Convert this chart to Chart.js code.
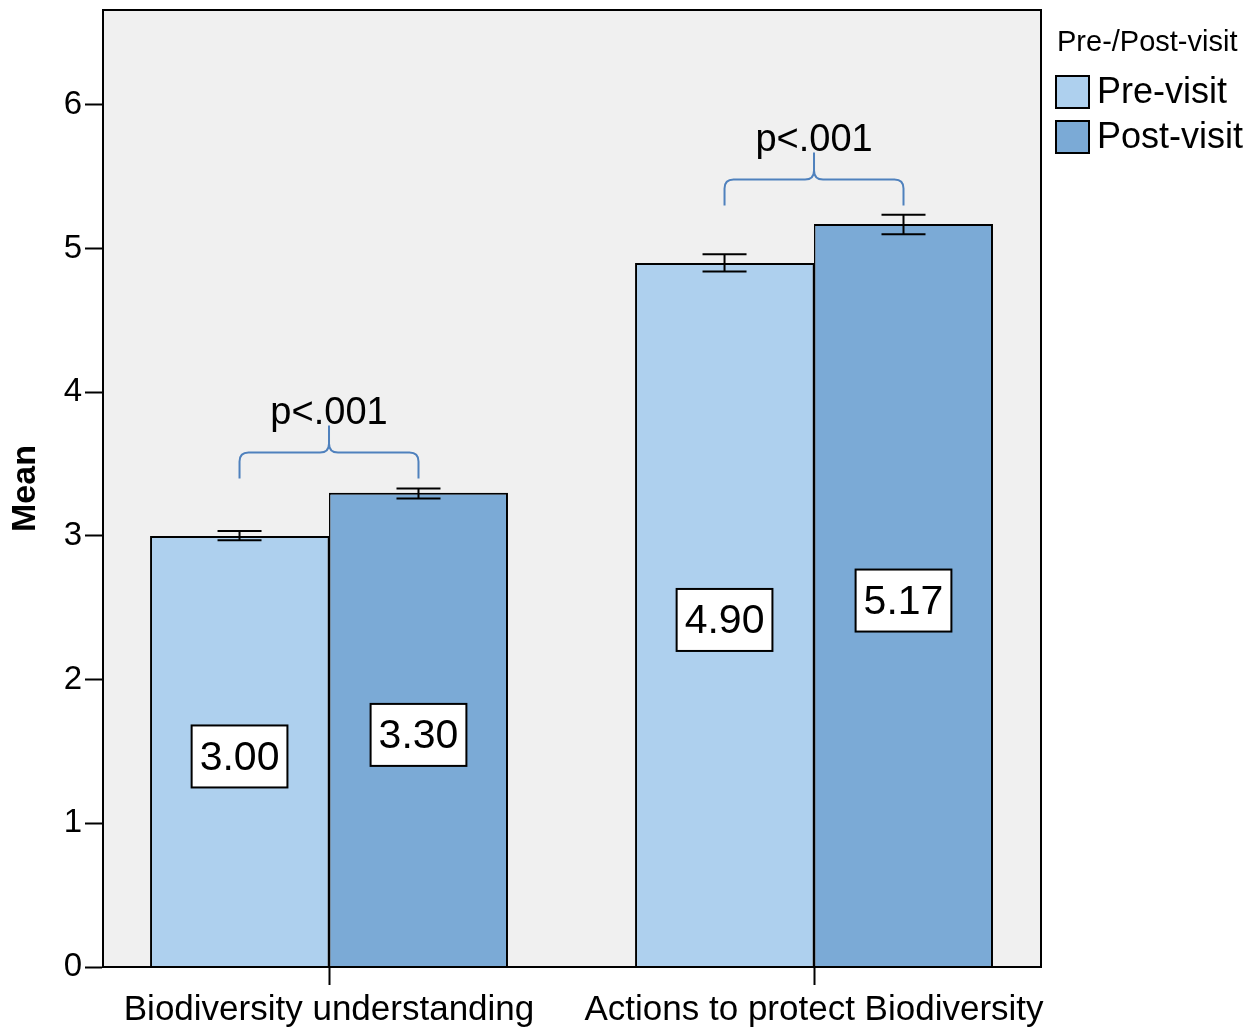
<!DOCTYPE html>
<html><head><meta charset="utf-8">
<script src="https://cdn.jsdelivr.net/npm/chart.js@4.4.1/dist/chart.umd.min.js"></script>
<style>html,body{margin:0;padding:0;background:#fff;} canvas{display:block;}</style>
</head><body>
<canvas id="c" width="1247" height="1029"></canvas>
<script>
// ---- data ----
const categories = ['Biodiversity understanding', 'Actions to protect Biodiversity'];
const seriesNames = ['Pre-visit', 'Post-visit'];
const preMeans = [3.00, 4.90];
const postMeans = [3.30, 5.17];
const preCILow = [2.97, 4.84];
const preCIHigh = [3.035, 4.96];
const postCILow = [3.26, 5.10];
const postCIHigh = [3.33, 5.235];
const yTicks = [0, 1, 2, 3, 4, 5, 6];
const bracketLevels = [3.40, 5.30];
const bracketLabels = ['p<.001', 'p<.001'];
const legendTitle = 'Pre-/Post-visit';
const yAxisTitle = 'Mean';

// ---- styles ----
const FONT = '"Liberation Sans", Arial, Helvetica, sans-serif';
const PRE_COLOR = '#aed0ee';
const POST_COLOR = '#7baad6';
const BRACE_COLOR = '#4f81bd';
const PLOT_BG = '#f0f0f0';

const ciLow = [preCILow, postCILow];
const ciHigh = [preCIHigh, postCIHigh];

const decorPlugin = {
  id: 'decor',
  beforeDraw(chart) {
    const {ctx, chartArea: a} = chart;
    ctx.save();
    ctx.fillStyle = PLOT_BG;
    ctx.fillRect(a.left, a.top, a.right - a.left, a.bottom - a.top);
    ctx.restore();
  },
  afterDatasetsDraw(chart) {
    const {ctx} = chart;
    const y = chart.scales.y;
    ctx.save();
    // error bars
    chart.data.datasets.forEach((ds, di) => {
      const meta = chart.getDatasetMeta(di);
      meta.data.forEach((bar, i) => {
        const yl = y.getPixelForValue(ciLow[di][i]);
        const yh = y.getPixelForValue(ciHigh[di][i]);
        const half = 22;
        ctx.strokeStyle = '#000';
        ctx.lineWidth = 2;
        ctx.beginPath();
        ctx.moveTo(bar.x, yl); ctx.lineTo(bar.x, yh);
        ctx.moveTo(bar.x - half, yl); ctx.lineTo(bar.x + half, yl);
        ctx.moveTo(bar.x - half, yh); ctx.lineTo(bar.x + half, yh);
        ctx.stroke();
      });
    });
    // value labels
    ctx.font = '41px ' + FONT;
    ctx.textAlign = 'center';
    ctx.textBaseline = 'middle';
    chart.data.datasets.forEach((ds, di) => {
      const meta = chart.getDatasetMeta(di);
      meta.data.forEach((bar, i) => {
        const v = ds.data[i].y;
        const txt = v.toFixed(2);
        const cy = y.getPixelForValue(v / 2) + 5;
        const w = ctx.measureText(txt).width + 16;
        const h = 62;
        ctx.fillStyle = '#fff';
        ctx.fillRect(bar.x - w / 2, cy - h / 2, w, h);
        ctx.strokeStyle = '#000';
        ctx.lineWidth = 2;
        ctx.strokeRect(bar.x - w / 2, cy - h / 2, w, h);
        ctx.fillStyle = '#000';
        ctx.fillText(txt, bar.x, cy + 2);
      });
    });
    // braces
    const m0 = chart.getDatasetMeta(0), m1 = chart.getDatasetMeta(1);
    bracketLevels.forEach((lvl, i) => {
      const x1 = m0.data[i].x, x2 = m1.data[i].x;
      const xm = (x1 + x2) / 2;
      const yEnd = y.getPixelForValue(lvl);
      const yH = yEnd - 26, yTip = yH - 27, r = 9;
      ctx.strokeStyle = BRACE_COLOR;
      ctx.lineWidth = 2;
      ctx.beginPath();
      ctx.moveTo(x1, yEnd);
      ctx.lineTo(x1, yH + r);
      ctx.quadraticCurveTo(x1, yH, x1 + r, yH);
      ctx.lineTo(xm - r, yH);
      ctx.quadraticCurveTo(xm, yH, xm, yH - r);
      ctx.lineTo(xm, yTip);
      ctx.moveTo(xm, yH - r);
      ctx.quadraticCurveTo(xm, yH, xm + r, yH);
      ctx.lineTo(x2 - r, yH);
      ctx.quadraticCurveTo(x2, yH, x2, yH + r);
      ctx.lineTo(x2, yEnd);
      ctx.stroke();
      ctx.fillStyle = '#000';
      ctx.font = '38px ' + FONT;
      ctx.textAlign = 'center';
      ctx.textBaseline = 'alphabetic';
      ctx.fillText(bracketLabels[i], xm, yTip - 1);
    });
    ctx.restore();
  },
  afterDraw(chart) {
    const {ctx, chartArea: a} = chart;
    ctx.save();
    ctx.strokeStyle = '#000';
    ctx.lineWidth = 2;
    ctx.strokeRect(a.left, a.top, a.right - a.left, a.bottom - a.top);
    // legend
    ctx.fillStyle = '#000';
    ctx.textAlign = 'left';
    ctx.textBaseline = 'alphabetic';
    ctx.font = '29px ' + FONT;
    ctx.fillText(legendTitle, a.right + 16, a.top + 41);
    ctx.font = '36px ' + FONT;
    chart.data.datasets.forEach((ds, di) => {
      const by = a.top + 66 + di * 45;
      ctx.fillStyle = ds.backgroundColor;
      ctx.fillRect(a.right + 15, by, 33, 32);
      ctx.strokeStyle = '#000';
      ctx.lineWidth = 2;
      ctx.strokeRect(a.right + 15, by, 33, 32);
      ctx.fillStyle = '#000';
      ctx.textBaseline = 'middle';
      ctx.fillText(ds.label, a.right + 56, by + 17);
    });
    ctx.restore();
  }
};

const mkData = (vals) => categories.map((c, i) => ({x: i, y: vals[i]}));

new Chart(document.getElementById('c').getContext('2d'), {
  type: 'bar',
  data: {
    datasets: [
      {label: seriesNames[0], data: mkData(preMeans), backgroundColor: PRE_COLOR, borderColor: '#000',
        borderWidth: {top: 2, left: 2, right: 1.5, bottom: 0}, borderSkipped: false},
      {label: seriesNames[1], data: mkData(postMeans), backgroundColor: POST_COLOR, borderColor: '#000',
        borderWidth: {top: 2, left: 1.5, right: 2, bottom: 0}, borderSkipped: false}
    ]
  },
  options: {
    responsive: false,
    animation: false,
    devicePixelRatio: 1,
    categoryPercentage: 0.738,
    barPercentage: 1.0,
    layout: {padding: {top: 10, right: 206, left: 0, bottom: 0}},
    plugins: {legend: {display: false}, tooltip: {enabled: false}},
    scales: {
      x: {
        type: 'linear', min: -0.466, max: 1.468, offset: false,
        afterBuildTicks: s => { s.ticks = categories.map((c, i) => ({value: i})); },
        afterFit: s => { s.height = 62; s.paddingLeft = 0; s.paddingRight = 0; },
        grid: {offset: false, drawOnChartArea: false, drawTicks: true, tickLength: 18, tickColor: '#000', tickWidth: 2},
        border: {display: true, color: '#000', width: 2},
        ticks: {color: '#000', font: {family: FONT, size: 35}, padding: 4, maxRotation: 0, autoSkip: false,
          callback: v => categories[v]}
      },
      y: {
        min: 0, max: 6.66,
        afterBuildTicks: s => { s.ticks = yTicks.map(v => ({value: v})); },
        afterFit: s => { s.width = 103; s.paddingTop = 0; s.paddingBottom = 0; },
        grid: {drawOnChartArea: false, drawTicks: true, tickLength: 18, tickColor: '#000', tickWidth: 2},
        border: {display: true, color: '#000', width: 2},
        ticks: {color: '#000', font: {family: FONT, size: 33}, padding: 3},
        title: {display: true, text: yAxisTitle, color: '#000', font: {family: FONT, size: 34, weight: 'bold'}, padding: {top: 5, bottom: 0}}
      }
    }
  },
  plugins: [decorPlugin]
});
</script>
</body></html>
